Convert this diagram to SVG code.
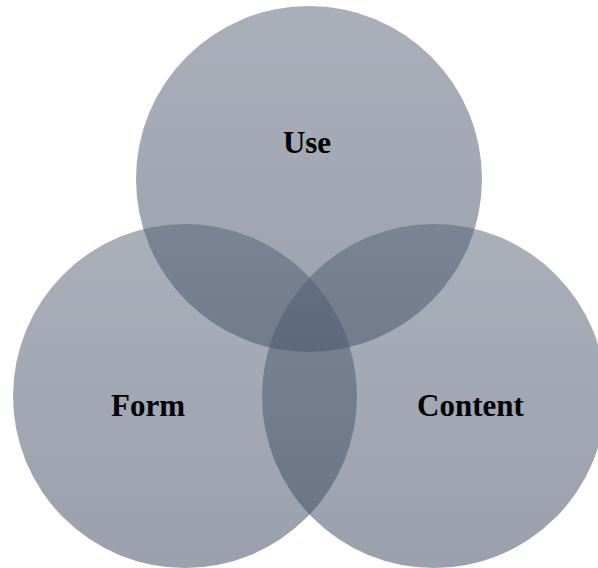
<svg xmlns="http://www.w3.org/2000/svg" width="598" height="568" viewBox="0 0 598 568">
<defs>
<linearGradient id="g" x1="0" y1="0" x2="0" y2="1">
<stop offset="0" stop-color="#556175"/>
<stop offset="1" stop-color="#36445c"/>
</linearGradient>
<style>
.c{fill:url(#g);fill-opacity:0.5}
.t{font-family:"Liberation Serif","Times New Roman",serif;font-weight:bold;font-size:31px;fill:#000;text-anchor:middle}
</style>
</defs>
<rect width="598" height="568" fill="#fff"/>
<g id="use"><circle class="c" cx="309" cy="179" r="173"/><text class="t" x="307" y="153">Use</text></g>
<g id="form"><circle class="c" cx="185" cy="396" r="172"/><text class="t" x="148" y="416">Form</text></g>
<g id="content"><circle class="c" cx="434" cy="396" r="172"/><text class="t" x="470.5" y="416">Content</text></g>
<g id="connectors"/>
</svg>
